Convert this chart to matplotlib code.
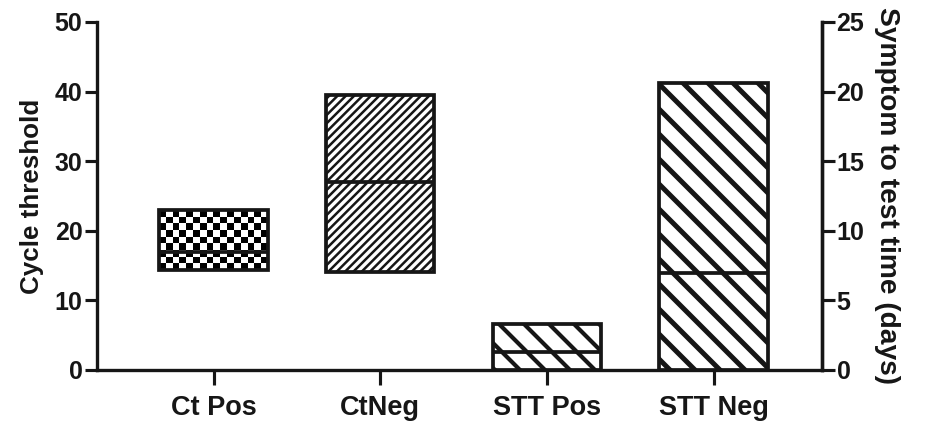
import numpy as np
import matplotlib
matplotlib.use('Agg')
import matplotlib.pyplot as plt

plt.rcParams['font.family'] = ['Liberation Sans', 'DejaVu Sans']
plt.rcParams['font.weight'] = 'bold'

groups = ['Ct Pos', 'CtNeg', 'STT Pos', 'STT Neg']
# cycle threshold (left axis): min, median, max
ct_low = [14.4, 14.1]
ct_med = [17.0, 27.0]
ct_high = [23.0, 39.5]
# symptom to test time in days (right axis): min, median, max
stt_low = [0.0, 0.0]
stt_med = [1.3, 7.0]
stt_high = [3.3, 20.6]

ink = '#161616'
bar_w = 0.65
x = np.arange(len(groups))

fig = plt.figure(figsize=(929 / 150, 426 / 150), dpi=150)
ax = fig.add_axes([0.1044, 0.1315, 0.7804, 0.8169])
ax2 = ax.twinx()


def box(axis, xc, lo, med, hi, hatch, hlw, img=False):
    r = axis.bar(xc, hi - lo, bottom=lo, width=bar_w,
                 facecolor='none' if img else 'white',
                 edgecolor=ink, linewidth=1.8, hatch=hatch, zorder=3)[0]
    if hatch and hasattr(r, 'set_hatch_linewidth'):
        r.set_hatch_linewidth(hlw)
    if img:
        # checkerboard fill
        nx, ny = 16, 9
        chk = (np.add.outer(np.arange(ny), np.arange(nx)) % 2).astype(float)
        im = axis.imshow(chk, cmap='gray', vmin=0, vmax=1, aspect='auto',
                         interpolation='nearest', zorder=2,
                         extent=[xc - bar_w / 2, xc + bar_w / 2, lo, hi])
        im.set_clip_path(r)
    axis.hlines(med, xc - bar_w / 2, xc + bar_w / 2, color=ink,
                linewidth=1.8, zorder=4)


plt.rcParams['hatch.color'] = ink
box(ax, x[0], ct_low[0], ct_med[0], ct_high[0], None, 1.0, img=True)
plt.rcParams['hatch.linewidth'] = 1.2
box(ax, x[1], ct_low[1], ct_med[1], ct_high[1], '//////', 1.2)
plt.rcParams['hatch.linewidth'] = 2.0
box(ax2, x[2], stt_low[0], stt_med[0], stt_high[0], '\\\\', 2.0)
plt.rcParams['hatch.linewidth'] = 2.4
box(ax2, x[3], stt_low[1], stt_med[1], stt_high[1], '\\\\', 2.4)

ax.set_xlim(-0.7, 3.65)
ax.set_ylim(0, 50)
ax2.set_ylim(0, 25)

ax.set_yticks(range(0, 51, 10))
ax2.set_yticks(range(0, 26, 5))
ax.set_xticks(x)
ax.set_xticklabels(groups, fontsize=13, fontweight='bold', color=ink)

for a in (ax, ax2):
    a.spines['top'].set_visible(False)
    for s in a.spines.values():
        s.set_linewidth(1.6)
        s.set_color(ink)
    a.tick_params(width=1.5, length=6, color=ink, labelsize=12,
                  labelcolor=ink, pad=1)
ax.tick_params(axis='x', length=7, pad=5, labelsize=13)
ax2.spines['left'].set_visible(False)
ax2.spines['bottom'].set_visible(False)

ax.set_ylabel('Cycle threshold', fontsize=12.5, fontweight='bold',
              color=ink, labelpad=5)
ax2.set_ylabel('Symptom to test time (days)', fontsize=13.5,
               fontweight='bold', color=ink, rotation=270, labelpad=17)

fig.savefig('out.png', dpi=150)
